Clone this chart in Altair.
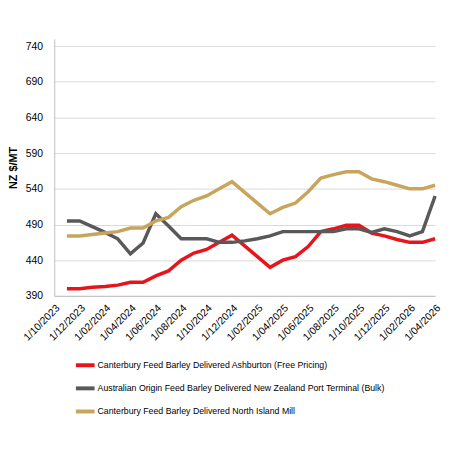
import altair as alt
import pandas as pd

tick_labels = ["1/10/2023", "1/12/2023", "1/02/2024", "1/04/2024", "1/06/2024",
               "1/08/2024", "1/10/2024", "1/12/2024", "1/02/2025", "1/04/2025",
               "1/06/2025", "1/08/2025", "1/10/2025", "1/12/2025", "1/02/2026",
               "1/04/2026"]

# months after 1/10/2023 (1 = 1/11/2023 ... 30 = 1/04/2026)
months = list(range(1, 31))

ashburton = [400, 400, 402, 403, 405, 409, 409, 418, 425, 440,
             450, 455, 465, 475, 460, 445, 430, 440, 445, 459,
             480, 484, 489, 489, 478, 474, 469, 465, 465, 470]
australian = [495, 495, 487, 479, 470, 449, 464, 505, 488, 470,
              470, 470, 465, 465, 467, 470, 474, 480, 480, 480,
              480, 480, 484, 484, 479, 484, 480, 474, 480, 530]
north_island = [474, 474, 476, 478, 480, 485, 485, 495, 500, 515,
                524, 530, 540, 550, 535, 520, 505, 514, 520, 536,
                555, 560, 564, 564, 554, 550, 545, 540, 540, 545]

series_names = [
    "Canterbury Feed Barley Delivered Ashburton (Free Pricing)",
    "Australian Origin Feed Barley Delivered New Zealand Port Terminal (Bulk)",
    "Canterbury Feed Barley Delivered North Island Mill",
]
colors = ["#e8141b", "#595959", "#c8a45c"]

y_ticks = [390, 440, 490, 540, 590, 640, 690, 740]

rows = []
for k, (name, vals) in enumerate(zip(series_names, [ashburton, australian, north_island])):
    for m, v in zip(months, vals):
        rows.append({"month": m, "price": v, "series": name, "k": k})
df = pd.DataFrame(rows)

label_expr = "[" + ",".join("'" + l + "'" for l in tick_labels) + "][round(datum.value / 2)]"

FONT = "Liberation Sans"

chart = alt.Chart(df).mark_line(strokeWidth=3.5).encode(
    x=alt.X("month:Q",
            scale=alt.Scale(domain=[0, 30], nice=False, zero=False),
            axis=alt.Axis(values=list(range(0, 31, 2)), labelExpr=label_expr,
                          labelAngle=-45, title=None, grid=False, ticks=False,
                          domainColor="#bfbfbf", domainWidth=1,
                          labelFontSize=10.5, labelFont=FONT, labelColor="#000000",
                          labelPadding=7, labelOverlap=False, labelBound=False,
                          labelFlush=False)),
    y=alt.Y("price:Q",
            scale=alt.Scale(domain=[390, 750], nice=False, zero=False),
            axis=alt.Axis(values=y_ticks, title="NZ $/MT", grid=True,
                          gridColor="#d9d9d9", gridWidth=1, ticks=False,
                          domainColor="#bfbfbf", domainWidth=1,
                          labelFontSize=10.5, labelFont=FONT, labelColor="#000000",
                          labelPadding=12, titleFont=FONT, titleFontSize=11,
                          titleFontWeight="bold", titleColor="#000000",
                          titleAngle=-90, titleX=-36, titleY=130.5,
                          titleAlign="center", titleBaseline="bottom")),
    color=alt.Color("series:N",
                    scale=alt.Scale(domain=series_names, range=colors),
                    sort=series_names,
                    legend=alt.Legend(title=None, orient="none", legendX=20, legendY=320,
                                      direction="vertical", symbolType="stroke",
                                      symbolSize=361, symbolStrokeWidth=4,
                                      labelFont=FONT, labelFontSize=8.9,
                                      labelColor="#000000", labelOffset=1,
                                      rowPadding=3.5, labelLimit=400)),
    order=alt.Order("k:Q"),
).properties(
    width=387,
    height=261,
    padding={"left": 47, "top": 28, "right": 7, "bottom": 145},
    autosize=alt.AutoSizeParams(type="none"),
    background="white",
).configure_view(stroke=None)

chart.save("out.html", embed_options={"renderer": "svg", "actions": False})
